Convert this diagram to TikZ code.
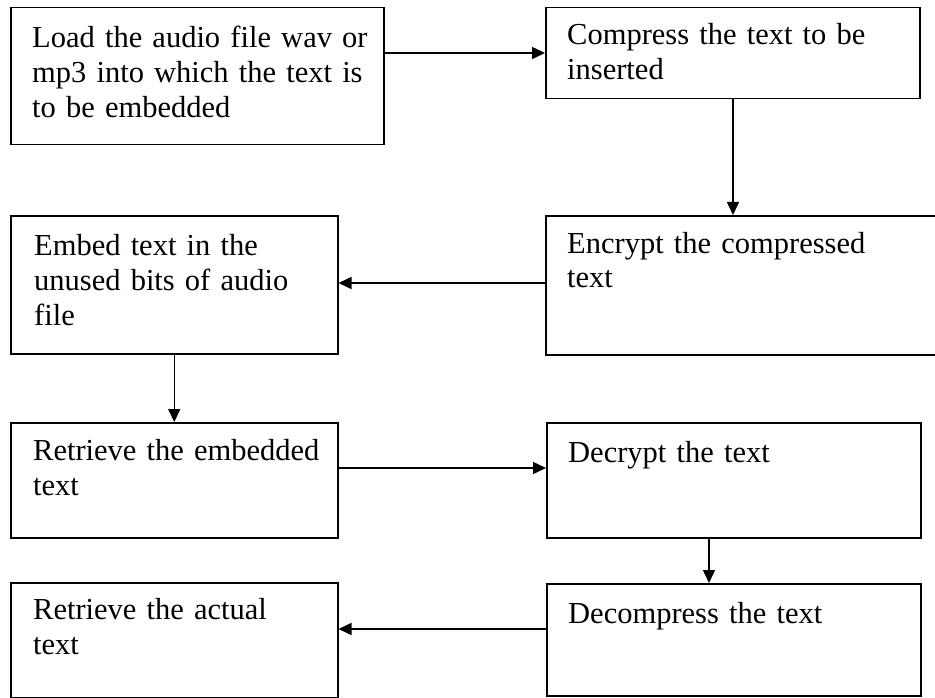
\documentclass[tikz,border=0pt]{standalone}
\usepackage{fontspec}
\setmainfont{Liberation Serif}
\usetikzlibrary{arrows.meta}
\begin{document}
\begin{tikzpicture}[x=1pt,y=-1pt,
  box/.style={draw, line width=1.5pt, inner sep=0pt, anchor=north west},
  lbl/.style={inner sep=0pt, anchor=base west, text width=360pt, align=left,
              font=\fontsize{30.5}{35}\selectfont},
  arr/.style={line width=1.5pt, -{Triangle[length=13pt,width=12pt]}}]
\useasboundingbox (0,0) rectangle (935,698);
\fill[white] (0,0) rectangle (935,698);

% process boxes
\node[box, minimum width=373pt, minimum height=137pt] (b1) at (10,7) {};
\node[box, minimum width=374pt, minimum height=91pt]  (b2) at (545,7) {};
\node[box, minimum width=405pt, minimum height=139pt] (b3) at (545,215) {};
\node[box, minimum width=327pt, minimum height=138pt] (b4) at (10,215) {};
\node[box, minimum width=327pt, minimum height=115pt] (b5) at (10,422) {};
\node[box, minimum width=374pt, minimum height=115pt] (b6) at (546,422) {};
\node[box, minimum width=374pt, minimum height=112pt] (b7) at (546,583) {};
\node[box, minimum width=327pt, minimum height=115pt] (b8) at (10,582) {};

% box texts
\node[lbl] (t1) at (32,48)  {Load the audio file wav or\\mp3 into which the text is\\to be embedded};
\node[lbl] (t2) at (567,45) {Compress the text to be\\inserted};
\node[lbl] (t3) at (567,253) {Encrypt the compressed\\text};
\node[lbl] (t4) at (34,255) {Embed text in the\\unused bits of audio\\file};
\node[lbl] (t5) at (33,460) {Retrieve the embedded\\text};
\node[lbl] (t6) at (568,462) {Decrypt the text};
\node[lbl] (t7) at (568,623) {Decompress the text};
\node[lbl] (t8) at (33,619) {Retrieve the actual\\text};

% flow connectors
\draw[arr] ([yshift=-46pt]b1.north east) -- ([yshift=-46pt]b2.north west);
\draw[arr] ([xshift=188pt]b2.south west) -- ([xshift=188pt]b3.north west);
\draw[arr] ([yshift=-68pt]b3.north west) -- ([yshift=-68pt]b4.north east);
\draw[arr] (b4.south) -- (b5.north);
\draw[arr] ([yshift=-46pt]b5.north east) -- ([yshift=-46pt]b6.north west);
\draw[arr] ([xshift=163pt]b6.south west) -- ([xshift=163pt]b7.north west);
\draw[arr] ([yshift=-46pt]b7.north west) -- ([yshift=-47pt]b8.north east);
\end{tikzpicture}
\end{document}
